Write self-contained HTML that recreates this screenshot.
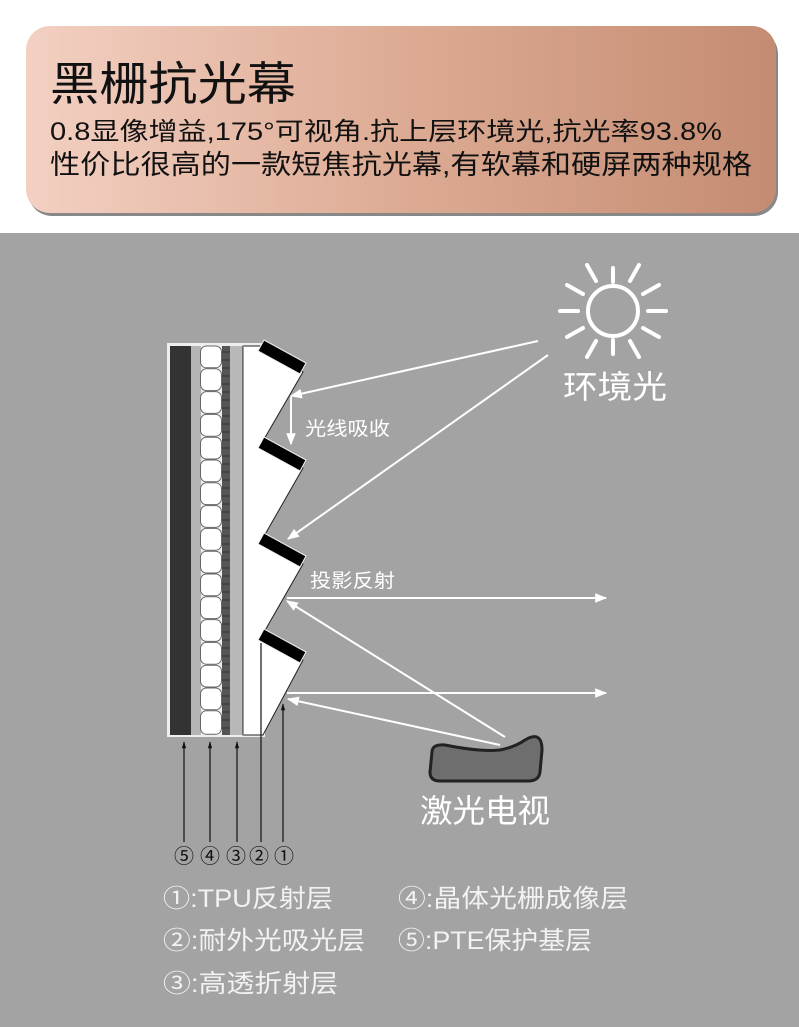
<!DOCTYPE html>
<html><head><meta charset="utf-8"><style>
html,body{margin:0;padding:0;background:#fff}
svg{display:block}
</style></head><body>
<svg width="799" height="1027" viewBox="0 0 799 1027" xmlns="http://www.w3.org/2000/svg" font-family="'Liberation Sans','Noto Sans CJK SC',sans-serif">
<defs>
<linearGradient id="hg" x1="0" x2="1" y1="0" y2="0">
<stop offset="0" stop-color="#f3d0c2"/><stop offset="0.5" stop-color="#ddab94"/><stop offset="1" stop-color="#c48c72"/>
</linearGradient>
<marker id="ak" viewBox="0 0 10 10" refX="9" refY="5" markerWidth="7" markerHeight="7" orient="auto" markerUnits="userSpaceOnUse">
<path d="M0,2 L10,5 L0,8 z" fill="#111"/></marker>
<marker id="ahb" viewBox="0 0 10 10" refX="9" refY="5" markerWidth="14" markerHeight="12" orient="auto" markerUnits="userSpaceOnUse">
<path d="M0,1 L10,5 L0,9 z" fill="#fff"/></marker>
</defs>
<rect x="0" y="0" width="799" height="233" fill="#fff"/>
<rect x="28" y="30" width="750" height="186" rx="24" fill="#555" opacity="0.7"/>
<rect x="26" y="26" width="750" height="187" rx="24" fill="url(#hg)"/>
<text x="50" y="100" font-size="46" fill="#111" textLength="246" lengthAdjust="spacingAndGlyphs">黑栅抗光幕</text>
<text x="50" y="140" font-size="25" fill="#111" textLength="672" lengthAdjust="spacingAndGlyphs">0.8显像增益,175°可视角.抗上层环境光,抗光率93.8%</text>
<text x="50" y="174" font-size="27" fill="#111" textLength="702" lengthAdjust="spacingAndGlyphs">性价比很高的一款短焦抗光幕,有软幕和硬屏两种规格</text>
<rect x="0" y="233" width="799" height="794" fill="#a3a3a3"/>

<rect x="167" y="343" width="98" height="394" fill="#eee"/>
<rect x="170" y="346" width="21" height="389" fill="#333"/>
<rect x="191" y="346" width="10" height="389" fill="#b5b5b5"/>
<g fill="#fff" stroke="#666" stroke-width="1">
<rect x="200.5" y="346" width="21" height="21.8" rx="6"/><rect x="200.5" y="368.8" width="21" height="21.8" rx="6"/><rect x="200.5" y="391.6" width="21" height="21.8" rx="6"/><rect x="200.5" y="414.4" width="21" height="21.8" rx="6"/><rect x="200.5" y="437.2" width="21" height="21.8" rx="6"/><rect x="200.5" y="460" width="21" height="21.8" rx="6"/><rect x="200.5" y="482.8" width="21" height="21.8" rx="6"/><rect x="200.5" y="505.6" width="21" height="21.8" rx="6"/><rect x="200.5" y="528.4" width="21" height="21.8" rx="6"/><rect x="200.5" y="551.2" width="21" height="21.8" rx="6"/><rect x="200.5" y="574" width="21" height="21.8" rx="6"/><rect x="200.5" y="596.8" width="21" height="21.8" rx="6"/><rect x="200.5" y="619.6" width="21" height="21.8" rx="6"/><rect x="200.5" y="642.4" width="21" height="21.8" rx="6"/><rect x="200.5" y="665.2" width="21" height="21.8" rx="6"/><rect x="200.5" y="688" width="21" height="21.8" rx="6"/><rect x="200.5" y="710.8" width="21" height="23.5" rx="6"/>
</g>
<rect x="222" y="346" width="8" height="389" fill="#555"/>
<g stroke="#333" stroke-width="1">
<path d="M222 352H230M222 360H230M222 368H230M222 376H230M222 384H230M222 392H230M222 400H230M222 408H230M222 416H230M222 424H230M222 432H230M222 440H230M222 448H230M222 456H230M222 464H230M222 472H230M222 480H230M222 488H230M222 496H230M222 504H230M222 512H230M222 520H230M222 528H230M222 536H230M222 544H230M222 552H230M222 560H230M222 568H230M222 576H230M222 584H230M222 592H230M222 600H230M222 608H230M222 616H230M222 624H230M222 632H230M222 640H230M222 648H230M222 656H230M222 664H230M222 672H230M222 680H230M222 688H230M222 696H230M222 704H230M222 712H230M222 720H230M222 728H230"/>
</g>
<rect x="230" y="346" width="13" height="389" fill="#b8b8b8"/>
<polygon points="243,346 262,346 303,372 263,441 303,468 263,538 303,564 263,634 303,660 263,735 243,735" fill="#fff" stroke="#222" stroke-width="1"/>
<rect x="243" y="346" width="1" height="389" fill="#999"/>
<g fill="#000" stroke="#eee" stroke-width="1">
<polygon points="264,340 306,363 300,374 258,351"/>
<polygon points="264,437 306,460 300,471 258,448"/>
<polygon points="264,533 306,556 300,567 258,544"/>
<polygon points="264,629 306,652 300,663 258,640"/>
</g>

<g stroke="#fff" stroke-width="2" fill="none">
<line x1="538" y1="341" x2="291" y2="396" marker-end="url(#ahb)"/>
<line x1="291" y1="397" x2="291" y2="444" marker-end="url(#ahb)"/>
<line x1="548" y1="355" x2="288" y2="539" marker-end="url(#ahb)"/>
<line x1="287" y1="598" x2="606" y2="598" marker-end="url(#ahb)"/>
<line x1="505" y1="737" x2="287" y2="601" marker-end="url(#ahb)"/>
<line x1="287" y1="693" x2="606" y2="693" marker-end="url(#ahb)"/>
<line x1="500" y1="745" x2="288" y2="699" marker-end="url(#ahb)"/>
</g>
<text x="305" y="435" font-size="19" fill="#fff" textLength="85" lengthAdjust="spacingAndGlyphs">光线吸收</text>
<text x="310" y="587" font-size="19" fill="#fff" textLength="85" lengthAdjust="spacingAndGlyphs">投影反射</text>

<g stroke="#fff" stroke-width="4" stroke-linecap="round" fill="none">
<circle cx="613" cy="311" r="25"/>
<line x1="613" y1="268" x2="613" y2="282"/><line x1="613" y1="340" x2="613" y2="354"/>
<line x1="560" y1="311" x2="578" y2="311"/><line x1="648" y1="311" x2="666" y2="311"/>
<line x1="587" y1="265" x2="596" y2="281"/><line x1="630" y1="341" x2="639" y2="357"/>
<line x1="639" y1="265" x2="630" y2="281"/><line x1="596" y1="341" x2="587" y2="357"/>
<line x1="567" y1="285" x2="583" y2="294"/><line x1="643" y1="328" x2="659" y2="337"/>
<line x1="659" y1="285" x2="643" y2="294"/><line x1="583" y1="328" x2="567" y2="337"/>
</g>
<text x="563" y="398" font-size="32" fill="#fff" textLength="104" lengthAdjust="spacingAndGlyphs">环境光</text>

<path d="M432,752 Q432,744 445,745 Q480,752 500,750 Q515,747 525,740 Q542,730 542,750 L540,772 Q539,781 528,781 L440,781 Q430,781 430,772 Z" fill="#6e6e6e" stroke="#222" stroke-width="3"/>
<text x="420" y="822" font-size="32" fill="#fff" textLength="130" lengthAdjust="spacingAndGlyphs">激光电视</text>

<g stroke="#111" stroke-width="1.2">
<line x1="184" y1="842" x2="184" y2="742" marker-end="url(#ak)"/>
<line x1="210" y1="842" x2="210" y2="742" marker-end="url(#ak)"/>
<line x1="237" y1="842" x2="237" y2="742" marker-end="url(#ak)"/>
<line x1="261" y1="842" x2="261" y2="643"/>
<line x1="283" y1="842" x2="283" y2="704" marker-end="url(#ak)"/>
</g>
<g font-size="20" fill="#111" text-anchor="middle">
<text x="184" y="863">⑤</text><text x="210" y="863">④</text><text x="236" y="863">③</text><text x="259" y="863">②</text><text x="284" y="863">①</text>
</g>
<g font-size="25" fill="#f2f2f2">
<text x="163" y="907" textLength="170" lengthAdjust="spacingAndGlyphs">①:TPU反射层</text>
<text x="398" y="907" textLength="230" lengthAdjust="spacingAndGlyphs">④:晶体光栅成像层</text>
<text x="163" y="949" textLength="202" lengthAdjust="spacingAndGlyphs">②:耐外光吸光层</text>
<text x="398" y="949" textLength="194" lengthAdjust="spacingAndGlyphs">⑤:PTE保护基层</text>
<text x="163" y="992" textLength="175" lengthAdjust="spacingAndGlyphs">③:高透折射层</text>
</g>
</svg>
</body></html>
